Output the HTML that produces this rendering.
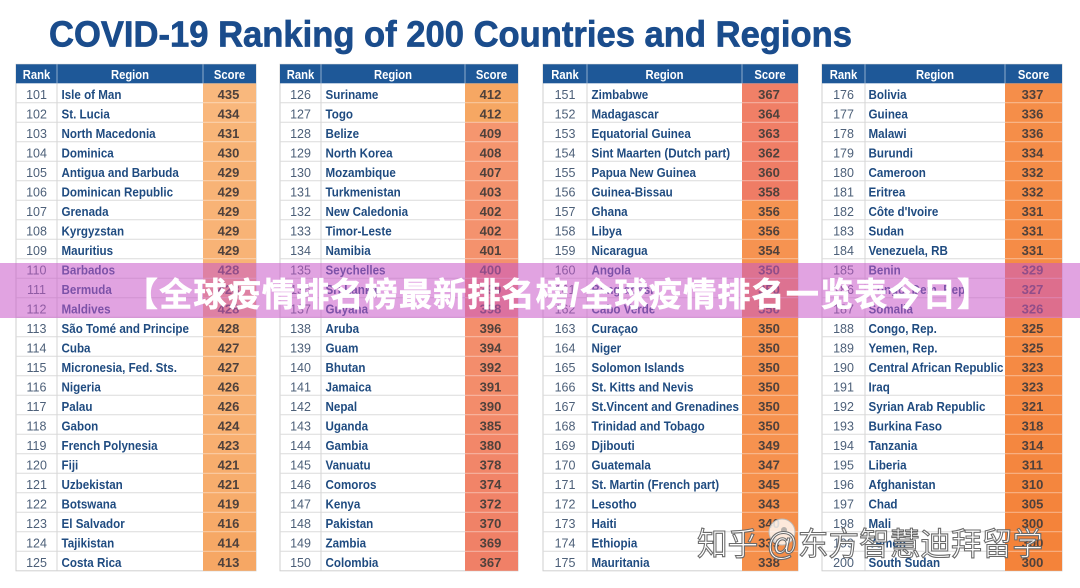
<!DOCTYPE html>
<html><head><meta charset="utf-8"><style>
html,body{margin:0;padding:0;background:#fff;}
svg{display:block}
.rk{font-family:"Liberation Sans",sans-serif;font-size:12.5px;fill:#4d6079;text-anchor:middle}
.rg{font-family:"Liberation Sans",sans-serif;font-size:13.2px;font-weight:bold;fill:#1f4b80}
.sc{font-family:"Liberation Sans",sans-serif;font-size:13px;font-weight:bold;fill:#4f413c;text-anchor:middle}
.hd{font-family:"Liberation Sans",sans-serif;font-size:12.5px;font-weight:bold;fill:#fff;text-anchor:middle}
</style></head><body>
<svg width="1080" height="588" viewBox="0 0 1080 588" xmlns="http://www.w3.org/2000/svg">
<rect width="1080" height="588" fill="#fff"/>
<text x="49" y="46.5" font-family="'Liberation Sans',sans-serif" font-size="36" font-weight="bold" fill="#1a4c8c" stroke="#1a4c8c" stroke-width="0.7" textLength="803" lengthAdjust="spacingAndGlyphs">COVID-19 Ranking of 200 Countries and Regions</text>

<!-- TABLE 1 -->
<g transform="translate(16,0)">
<rect x="0" y="64.3" width="240" height="506.5" fill="#fff" stroke="#cfcfcf"/>
<g>
<rect x="187" y="83.3" width="53" height="19.5" fill="#f9b87d"/>
<rect x="187" y="102.8" width="53" height="19.5" fill="#f9b77c"/>
<rect x="187" y="122.3" width="53" height="19.5" fill="#f8b578"/>
<rect x="187" y="141.8" width="53" height="19.5" fill="#f8b477"/>
<rect x="187" y="161.3" width="53" height="19.5" fill="#f8b376"/>
<rect x="187" y="180.8" width="53" height="19.5" fill="#f8b376"/>
<rect x="187" y="200.3" width="53" height="19.5" fill="#f8b376"/>
<rect x="187" y="219.8" width="53" height="19.5" fill="#f8b376"/>
<rect x="187" y="239.3" width="53" height="19.5" fill="#f8b376"/>
<rect x="187" y="258.8" width="53" height="19.5" fill="#f8b375"/>
<rect x="187" y="278.3" width="53" height="19.5" fill="#f8b375"/>
<rect x="187" y="297.8" width="53" height="19.5" fill="#f8b375"/>
<rect x="187" y="317.3" width="53" height="19.5" fill="#f8b375"/>
<rect x="187" y="336.8" width="53" height="19.5" fill="#f8b274"/>
<rect x="187" y="356.3" width="53" height="19.5" fill="#f8b274"/>
<rect x="187" y="375.8" width="53" height="19.5" fill="#f8b173"/>
<rect x="187" y="395.3" width="53" height="19.5" fill="#f8b173"/>
<rect x="187" y="414.8" width="53" height="19.5" fill="#f8b071"/>
<rect x="187" y="434.3" width="53" height="19.5" fill="#f8af70"/>
<rect x="187" y="453.8" width="53" height="19.5" fill="#f7ad6d"/>
<rect x="187" y="473.3" width="53" height="19.5" fill="#f7ad6d"/>
<rect x="187" y="492.8" width="53" height="19.5" fill="#f7ac6b"/>
<rect x="187" y="512.3" width="53" height="19.5" fill="#f7aa68"/>
<rect x="187" y="531.8" width="53" height="19.5" fill="#f6a865"/>
<rect x="187" y="551.3" width="53" height="19.5" fill="#f6a764"/>
</g>
<path d="M0 102.8h187m-187 19.5h187m-187 19.5h187m-187 19.5h187m-187 19.5h187m-187 19.5h187m-187 19.5h187m-187 19.5h187m-187 19.5h187m-187 19.5h187m-187 19.5h187m-187 19.5h187m-187 19.5h187m-187 19.5h187m-187 19.5h187m-187 19.5h187m-187 19.5h187m-187 19.5h187m-187 19.5h187m-187 19.5h187m-187 19.5h187m-187 19.5h187m-187 19.5h187m-187 19.5h187" stroke="#dcdcdc" fill="none"/>
<path d="M187 102.8h53m-53 19.5h53m-53 19.5h53m-53 19.5h53m-53 19.5h53m-53 19.5h53m-53 19.5h53m-53 19.5h53m-53 19.5h53m-53 19.5h53m-53 19.5h53m-53 19.5h53m-53 19.5h53m-53 19.5h53m-53 19.5h53m-53 19.5h53m-53 19.5h53m-53 19.5h53m-53 19.5h53m-53 19.5h53m-53 19.5h53m-53 19.5h53m-53 19.5h53m-53 19.5h53" stroke="#fff" stroke-opacity=".35" fill="none"/>
<path d="M41 83.3V570.8" stroke="#d6d6d6"/>
<rect x="0" y="64.3" width="240" height="19" fill="#1e5898"/>
<path d="M41 64.3v19M187 64.3v19" stroke="#fff" stroke-opacity=".5"/>
<text class="hd" transform="translate(20.5,79) scale(.9,1)">Rank</text>
<text class="hd" transform="translate(114,79) scale(.9,1)">Region</text>
<text class="hd" transform="translate(213.5,79) scale(.9,1)">Score</text>
<g>
<text class="rk" x="20.5" y="98.8">101</text><text class="rk" x="20.5" y="118.3">102</text><text class="rk" x="20.5" y="137.8">103</text><text class="rk" x="20.5" y="157.3">104</text><text class="rk" x="20.5" y="176.8">105</text><text class="rk" x="20.5" y="196.3">106</text><text class="rk" x="20.5" y="215.8">107</text><text class="rk" x="20.5" y="235.3">108</text><text class="rk" x="20.5" y="254.8">109</text><text class="rk" x="20.5" y="274.3">110</text><text class="rk" x="20.5" y="293.8">111</text><text class="rk" x="20.5" y="313.3">112</text><text class="rk" x="20.5" y="332.8">113</text><text class="rk" x="20.5" y="352.3">114</text><text class="rk" x="20.5" y="371.8">115</text><text class="rk" x="20.5" y="391.3">116</text><text class="rk" x="20.5" y="410.8">117</text><text class="rk" x="20.5" y="430.3">118</text><text class="rk" x="20.5" y="449.8">119</text><text class="rk" x="20.5" y="469.3">120</text><text class="rk" x="20.5" y="488.8">121</text><text class="rk" x="20.5" y="508.3">122</text><text class="rk" x="20.5" y="527.8">123</text><text class="rk" x="20.5" y="547.3">124</text><text class="rk" x="20.5" y="566.8">125</text>
</g>
<g transform="translate(45.5,0) scale(.88,1)">
<text class="rg" y="98.8">Isle of Man</text><text class="rg" y="118.3">St. Lucia</text><text class="rg" y="137.8">North Macedonia</text><text class="rg" y="157.3">Dominica</text><text class="rg" y="176.8">Antigua and Barbuda</text><text class="rg" y="196.3">Dominican Republic</text><text class="rg" y="215.8">Grenada</text><text class="rg" y="235.3">Kyrgyzstan</text><text class="rg" y="254.8">Mauritius</text><text class="rg" y="274.3">Barbados</text><text class="rg" y="293.8">Bermuda</text><text class="rg" y="313.3">Maldives</text><text class="rg" y="332.8">São Tomé and Principe</text><text class="rg" y="352.3">Cuba</text><text class="rg" y="371.8">Micronesia, Fed. Sts.</text><text class="rg" y="391.3">Nigeria</text><text class="rg" y="410.8">Palau</text><text class="rg" y="430.3">Gabon</text><text class="rg" y="449.8">French Polynesia</text><text class="rg" y="469.3">Fiji</text><text class="rg" y="488.8">Uzbekistan</text><text class="rg" y="508.3">Botswana</text><text class="rg" y="527.8">El Salvador</text><text class="rg" y="547.3">Tajikistan</text><text class="rg" y="566.8">Costa Rica</text>
</g>
<g>
<text class="sc" x="212.5" y="98.8">435</text><text class="sc" x="212.5" y="118.3">434</text><text class="sc" x="212.5" y="137.8">431</text><text class="sc" x="212.5" y="157.3">430</text><text class="sc" x="212.5" y="176.8">429</text><text class="sc" x="212.5" y="196.3">429</text><text class="sc" x="212.5" y="215.8">429</text><text class="sc" x="212.5" y="235.3">429</text><text class="sc" x="212.5" y="254.8">429</text><text class="sc" x="212.5" y="274.3">428</text><text class="sc" x="212.5" y="293.8">428</text><text class="sc" x="212.5" y="313.3">428</text><text class="sc" x="212.5" y="332.8">428</text><text class="sc" x="212.5" y="352.3">427</text><text class="sc" x="212.5" y="371.8">427</text><text class="sc" x="212.5" y="391.3">426</text><text class="sc" x="212.5" y="410.8">426</text><text class="sc" x="212.5" y="430.3">424</text><text class="sc" x="212.5" y="449.8">423</text><text class="sc" x="212.5" y="469.3">421</text><text class="sc" x="212.5" y="488.8">421</text><text class="sc" x="212.5" y="508.3">419</text><text class="sc" x="212.5" y="527.8">416</text><text class="sc" x="212.5" y="547.3">414</text><text class="sc" x="212.5" y="566.8">413</text>
</g>
</g>

<!-- TABLE 2 -->
<g transform="translate(280,0)">
<rect x="0" y="64.3" width="238" height="506.5" fill="#fff" stroke="#cfcfcf"/>
<g>
<rect x="185" y="83.3" width="53" height="19.5" fill="#f6a763"/>
<rect x="185" y="102.8" width="53" height="19.5" fill="#f6a763"/>
<rect x="185" y="122.3" width="53" height="19.5" fill="#f5966f"/>
<rect x="185" y="141.8" width="53" height="19.5" fill="#f5966f"/>
<rect x="185" y="161.3" width="53" height="19.5" fill="#f5956f"/>
<rect x="185" y="180.8" width="53" height="19.5" fill="#f4936e"/>
<rect x="185" y="200.3" width="53" height="19.5" fill="#f4926e"/>
<rect x="185" y="219.8" width="53" height="19.5" fill="#f4926e"/>
<rect x="185" y="239.3" width="53" height="19.5" fill="#f4926d"/>
<rect x="185" y="258.8" width="53" height="19.5" fill="#f4916d"/>
<rect x="185" y="278.3" width="53" height="19.5" fill="#f4916d"/>
<rect x="185" y="297.8" width="53" height="19.5" fill="#f4906d"/>
<rect x="185" y="317.3" width="53" height="19.5" fill="#f48f6c"/>
<rect x="185" y="336.8" width="53" height="19.5" fill="#f38e6c"/>
<rect x="185" y="356.3" width="53" height="19.5" fill="#f38d6c"/>
<rect x="185" y="375.8" width="53" height="19.5" fill="#f38d6b"/>
<rect x="185" y="395.3" width="53" height="19.5" fill="#f38c6b"/>
<rect x="185" y="414.8" width="53" height="19.5" fill="#f28a6a"/>
<rect x="185" y="434.3" width="53" height="19.5" fill="#f28769"/>
<rect x="185" y="453.8" width="53" height="19.5" fill="#f18669"/>
<rect x="185" y="473.3" width="53" height="19.5" fill="#f18468"/>
<rect x="185" y="492.8" width="53" height="19.5" fill="#f18368"/>
<rect x="185" y="512.3" width="53" height="19.5" fill="#f08267"/>
<rect x="185" y="531.8" width="53" height="19.5" fill="#f08167"/>
<rect x="185" y="551.3" width="53" height="19.5" fill="#f08067"/>
</g>
<path d="M0 102.8h185m-185 19.5h185m-185 19.5h185m-185 19.5h185m-185 19.5h185m-185 19.5h185m-185 19.5h185m-185 19.5h185m-185 19.5h185m-185 19.5h185m-185 19.5h185m-185 19.5h185m-185 19.5h185m-185 19.5h185m-185 19.5h185m-185 19.5h185m-185 19.5h185m-185 19.5h185m-185 19.5h185m-185 19.5h185m-185 19.5h185m-185 19.5h185m-185 19.5h185m-185 19.5h185" stroke="#dcdcdc" fill="none"/>
<path d="M185 102.8h53m-53 19.5h53m-53 19.5h53m-53 19.5h53m-53 19.5h53m-53 19.5h53m-53 19.5h53m-53 19.5h53m-53 19.5h53m-53 19.5h53m-53 19.5h53m-53 19.5h53m-53 19.5h53m-53 19.5h53m-53 19.5h53m-53 19.5h53m-53 19.5h53m-53 19.5h53m-53 19.5h53m-53 19.5h53m-53 19.5h53m-53 19.5h53m-53 19.5h53m-53 19.5h53" stroke="#fff" stroke-opacity=".35" fill="none"/>
<path d="M41 83.3V570.8" stroke="#d6d6d6"/>
<rect x="0" y="64.3" width="238" height="19" fill="#1e5898"/>
<path d="M41 64.3v19M185 64.3v19" stroke="#fff" stroke-opacity=".5"/>
<text class="hd" transform="translate(20.5,79) scale(.9,1)">Rank</text>
<text class="hd" transform="translate(113,79) scale(.9,1)">Region</text>
<text class="hd" transform="translate(211.5,79) scale(.9,1)">Score</text>
<g>
<text class="rk" x="20.5" y="98.8">126</text><text class="rk" x="20.5" y="118.3">127</text><text class="rk" x="20.5" y="137.8">128</text><text class="rk" x="20.5" y="157.3">129</text><text class="rk" x="20.5" y="176.8">130</text><text class="rk" x="20.5" y="196.3">131</text><text class="rk" x="20.5" y="215.8">132</text><text class="rk" x="20.5" y="235.3">133</text><text class="rk" x="20.5" y="254.8">134</text><text class="rk" x="20.5" y="274.3">135</text><text class="rk" x="20.5" y="293.8">136</text><text class="rk" x="20.5" y="313.3">137</text><text class="rk" x="20.5" y="332.8">138</text><text class="rk" x="20.5" y="352.3">139</text><text class="rk" x="20.5" y="371.8">140</text><text class="rk" x="20.5" y="391.3">141</text><text class="rk" x="20.5" y="410.8">142</text><text class="rk" x="20.5" y="430.3">143</text><text class="rk" x="20.5" y="449.8">144</text><text class="rk" x="20.5" y="469.3">145</text><text class="rk" x="20.5" y="488.8">146</text><text class="rk" x="20.5" y="508.3">147</text><text class="rk" x="20.5" y="527.8">148</text><text class="rk" x="20.5" y="547.3">149</text><text class="rk" x="20.5" y="566.8">150</text>
</g>
<g transform="translate(45.5,0) scale(.88,1)">
<text class="rg" y="98.8">Suriname</text><text class="rg" y="118.3">Togo</text><text class="rg" y="137.8">Belize</text><text class="rg" y="157.3">North Korea</text><text class="rg" y="176.8">Mozambique</text><text class="rg" y="196.3">Turkmenistan</text><text class="rg" y="215.8">New Caledonia</text><text class="rg" y="235.3">Timor-Leste</text><text class="rg" y="254.8">Namibia</text><text class="rg" y="274.3">Seychelles</text><text class="rg" y="293.8">Sri Lanka</text><text class="rg" y="313.3">Guyana</text><text class="rg" y="332.8">Aruba</text><text class="rg" y="352.3">Guam</text><text class="rg" y="371.8">Bhutan</text><text class="rg" y="391.3">Jamaica</text><text class="rg" y="410.8">Nepal</text><text class="rg" y="430.3">Uganda</text><text class="rg" y="449.8">Gambia</text><text class="rg" y="469.3">Vanuatu</text><text class="rg" y="488.8">Comoros</text><text class="rg" y="508.3">Kenya</text><text class="rg" y="527.8">Pakistan</text><text class="rg" y="547.3">Zambia</text><text class="rg" y="566.8">Colombia</text>
</g>
<g>
<text class="sc" x="210.5" y="98.8">412</text><text class="sc" x="210.5" y="118.3">412</text><text class="sc" x="210.5" y="137.8">409</text><text class="sc" x="210.5" y="157.3">408</text><text class="sc" x="210.5" y="176.8">407</text><text class="sc" x="210.5" y="196.3">403</text><text class="sc" x="210.5" y="215.8">402</text><text class="sc" x="210.5" y="235.3">402</text><text class="sc" x="210.5" y="254.8">401</text><text class="sc" x="210.5" y="274.3">400</text><text class="sc" x="210.5" y="293.8">399</text><text class="sc" x="210.5" y="313.3">398</text><text class="sc" x="210.5" y="332.8">396</text><text class="sc" x="210.5" y="352.3">394</text><text class="sc" x="210.5" y="371.8">392</text><text class="sc" x="210.5" y="391.3">391</text><text class="sc" x="210.5" y="410.8">390</text><text class="sc" x="210.5" y="430.3">385</text><text class="sc" x="210.5" y="449.8">380</text><text class="sc" x="210.5" y="469.3">378</text><text class="sc" x="210.5" y="488.8">374</text><text class="sc" x="210.5" y="508.3">372</text><text class="sc" x="210.5" y="527.8">370</text><text class="sc" x="210.5" y="547.3">369</text><text class="sc" x="210.5" y="566.8">367</text>
</g>
</g>

<!-- TABLE 3 -->
<g transform="translate(543,0)">
<rect x="0" y="64.3" width="255" height="506.5" fill="#fff" stroke="#cfcfcf"/>
<g>
<rect x="199" y="83.3" width="56" height="19.5" fill="#f08067"/>
<rect x="199" y="102.8" width="56" height="19.5" fill="#f07f66"/>
<rect x="199" y="122.3" width="56" height="19.5" fill="#f07e66"/>
<rect x="199" y="141.8" width="56" height="19.5" fill="#f07e66"/>
<rect x="199" y="161.3" width="56" height="19.5" fill="#ef7d66"/>
<rect x="199" y="180.8" width="56" height="19.5" fill="#ef7c65"/>
<rect x="199" y="200.3" width="56" height="19.5" fill="#f69452"/>
<rect x="199" y="219.8" width="56" height="19.5" fill="#f69452"/>
<rect x="199" y="239.3" width="56" height="19.5" fill="#f69351"/>
<rect x="199" y="258.8" width="56" height="19.5" fill="#f6924f"/>
<rect x="199" y="278.3" width="56" height="19.5" fill="#f6924f"/>
<rect x="199" y="297.8" width="56" height="19.5" fill="#f6924f"/>
<rect x="199" y="317.3" width="56" height="19.5" fill="#f6924f"/>
<rect x="199" y="336.8" width="56" height="19.5" fill="#f6924f"/>
<rect x="199" y="356.3" width="56" height="19.5" fill="#f6924f"/>
<rect x="199" y="375.8" width="56" height="19.5" fill="#f6924f"/>
<rect x="199" y="395.3" width="56" height="19.5" fill="#f6924f"/>
<rect x="199" y="414.8" width="56" height="19.5" fill="#f6924f"/>
<rect x="199" y="434.3" width="56" height="19.5" fill="#f6924f"/>
<rect x="199" y="453.8" width="56" height="19.5" fill="#f6914e"/>
<rect x="199" y="473.3" width="56" height="19.5" fill="#f6914d"/>
<rect x="199" y="492.8" width="56" height="19.5" fill="#f6904c"/>
<rect x="199" y="512.3" width="56" height="19.5" fill="#f58f4b"/>
<rect x="199" y="531.8" width="56" height="19.5" fill="#f58f4b"/>
<rect x="199" y="551.3" width="56" height="19.5" fill="#f58f4a"/>
</g>
<path d="M0 102.8h199m-199 19.5h199m-199 19.5h199m-199 19.5h199m-199 19.5h199m-199 19.5h199m-199 19.5h199m-199 19.5h199m-199 19.5h199m-199 19.5h199m-199 19.5h199m-199 19.5h199m-199 19.5h199m-199 19.5h199m-199 19.5h199m-199 19.5h199m-199 19.5h199m-199 19.5h199m-199 19.5h199m-199 19.5h199m-199 19.5h199m-199 19.5h199m-199 19.5h199m-199 19.5h199" stroke="#dcdcdc" fill="none"/>
<path d="M199 102.8h56m-56 19.5h56m-56 19.5h56m-56 19.5h56m-56 19.5h56m-56 19.5h56m-56 19.5h56m-56 19.5h56m-56 19.5h56m-56 19.5h56m-56 19.5h56m-56 19.5h56m-56 19.5h56m-56 19.5h56m-56 19.5h56m-56 19.5h56m-56 19.5h56m-56 19.5h56m-56 19.5h56m-56 19.5h56m-56 19.5h56m-56 19.5h56m-56 19.5h56m-56 19.5h56" stroke="#fff" stroke-opacity=".35" fill="none"/>
<path d="M44 83.3V570.8" stroke="#d6d6d6"/>
<rect x="0" y="64.3" width="255" height="19" fill="#1e5898"/>
<path d="M44 64.3v19M199 64.3v19" stroke="#fff" stroke-opacity=".5"/>
<text class="hd" transform="translate(22,79) scale(.9,1)">Rank</text>
<text class="hd" transform="translate(121.5,79) scale(.9,1)">Region</text>
<text class="hd" transform="translate(227,79) scale(.9,1)">Score</text>
<g>
<text class="rk" x="22" y="98.8">151</text><text class="rk" x="22" y="118.3">152</text><text class="rk" x="22" y="137.8">153</text><text class="rk" x="22" y="157.3">154</text><text class="rk" x="22" y="176.8">155</text><text class="rk" x="22" y="196.3">156</text><text class="rk" x="22" y="215.8">157</text><text class="rk" x="22" y="235.3">158</text><text class="rk" x="22" y="254.8">159</text><text class="rk" x="22" y="274.3">160</text><text class="rk" x="22" y="293.8">161</text><text class="rk" x="22" y="313.3">162</text><text class="rk" x="22" y="332.8">163</text><text class="rk" x="22" y="352.3">164</text><text class="rk" x="22" y="371.8">165</text><text class="rk" x="22" y="391.3">166</text><text class="rk" x="22" y="410.8">167</text><text class="rk" x="22" y="430.3">168</text><text class="rk" x="22" y="449.8">169</text><text class="rk" x="22" y="469.3">170</text><text class="rk" x="22" y="488.8">171</text><text class="rk" x="22" y="508.3">172</text><text class="rk" x="22" y="527.8">173</text><text class="rk" x="22" y="547.3">174</text><text class="rk" x="22" y="566.8">175</text>
</g>
<g transform="translate(48.5,0) scale(.88,1)">
<text class="rg" y="98.8">Zimbabwe</text><text class="rg" y="118.3">Madagascar</text><text class="rg" y="137.8">Equatorial Guinea</text><text class="rg" y="157.3">Sint Maarten (Dutch part)</text><text class="rg" y="176.8">Papua New Guinea</text><text class="rg" y="196.3">Guinea-Bissau</text><text class="rg" y="215.8">Ghana</text><text class="rg" y="235.3">Libya</text><text class="rg" y="254.8">Nicaragua</text><text class="rg" y="274.3">Angola</text><text class="rg" y="293.8">Bangladesh</text><text class="rg" y="313.3">Cabo Verde</text><text class="rg" y="332.8">Curaçao</text><text class="rg" y="352.3">Niger</text><text class="rg" y="371.8">Solomon Islands</text><text class="rg" y="391.3">St. Kitts and Nevis</text><text class="rg" y="410.8">St.Vincent and Grenadines</text><text class="rg" y="430.3">Trinidad and Tobago</text><text class="rg" y="449.8">Djibouti</text><text class="rg" y="469.3">Guatemala</text><text class="rg" y="488.8">St. Martin (French part)</text><text class="rg" y="508.3">Lesotho</text><text class="rg" y="527.8">Haiti</text><text class="rg" y="547.3">Ethiopia</text><text class="rg" y="566.8">Mauritania</text>
</g>
<g>
<text class="sc" x="226" y="98.8">367</text><text class="sc" x="226" y="118.3">364</text><text class="sc" x="226" y="137.8">363</text><text class="sc" x="226" y="157.3">362</text><text class="sc" x="226" y="176.8">360</text><text class="sc" x="226" y="196.3">358</text><text class="sc" x="226" y="215.8">356</text><text class="sc" x="226" y="235.3">356</text><text class="sc" x="226" y="254.8">354</text><text class="sc" x="226" y="274.3">350</text><text class="sc" x="226" y="293.8">350</text><text class="sc" x="226" y="313.3">350</text><text class="sc" x="226" y="332.8">350</text><text class="sc" x="226" y="352.3">350</text><text class="sc" x="226" y="371.8">350</text><text class="sc" x="226" y="391.3">350</text><text class="sc" x="226" y="410.8">350</text><text class="sc" x="226" y="430.3">350</text><text class="sc" x="226" y="449.8">349</text><text class="sc" x="226" y="469.3">347</text><text class="sc" x="226" y="488.8">345</text><text class="sc" x="226" y="508.3">343</text><text class="sc" x="226" y="527.8">340</text><text class="sc" x="226" y="547.3">339</text><text class="sc" x="226" y="566.8">338</text>
</g>
</g>

<!-- TABLE 4 -->
<g transform="translate(822,0)">
<rect x="0" y="64.3" width="240" height="506.5" fill="#fff" stroke="#cfcfcf"/>
<g>
<rect x="183" y="83.3" width="57" height="19.5" fill="#f58e4a"/>
<rect x="183" y="102.8" width="57" height="19.5" fill="#f58e49"/>
<rect x="183" y="122.3" width="57" height="19.5" fill="#f58e49"/>
<rect x="183" y="141.8" width="57" height="19.5" fill="#f58d49"/>
<rect x="183" y="161.3" width="57" height="19.5" fill="#f58d48"/>
<rect x="183" y="180.8" width="57" height="19.5" fill="#f58d48"/>
<rect x="183" y="200.3" width="57" height="19.5" fill="#f58c47"/>
<rect x="183" y="219.8" width="57" height="19.5" fill="#f58c47"/>
<rect x="183" y="239.3" width="57" height="19.5" fill="#f58c47"/>
<rect x="183" y="258.8" width="57" height="19.5" fill="#f58c46"/>
<rect x="183" y="278.3" width="57" height="19.5" fill="#f58b46"/>
<rect x="183" y="297.8" width="57" height="19.5" fill="#f58b45"/>
<rect x="183" y="317.3" width="57" height="19.5" fill="#f58b45"/>
<rect x="183" y="336.8" width="57" height="19.5" fill="#f58b45"/>
<rect x="183" y="356.3" width="57" height="19.5" fill="#f58a44"/>
<rect x="183" y="375.8" width="57" height="19.5" fill="#f58a44"/>
<rect x="183" y="395.3" width="57" height="19.5" fill="#f58943"/>
<rect x="183" y="414.8" width="57" height="19.5" fill="#f58842"/>
<rect x="183" y="434.3" width="57" height="19.5" fill="#f48740"/>
<rect x="183" y="453.8" width="57" height="19.5" fill="#f4863f"/>
<rect x="183" y="473.3" width="57" height="19.5" fill="#f4863e"/>
<rect x="183" y="492.8" width="57" height="19.5" fill="#f4843c"/>
<rect x="183" y="512.3" width="57" height="19.5" fill="#f4833a"/>
<rect x="183" y="531.8" width="57" height="19.5" fill="#f4833a"/>
<rect x="183" y="551.3" width="57" height="19.5" fill="#f4833a"/>
</g>
<path d="M0 102.8h183m-183 19.5h183m-183 19.5h183m-183 19.5h183m-183 19.5h183m-183 19.5h183m-183 19.5h183m-183 19.5h183m-183 19.5h183m-183 19.5h183m-183 19.5h183m-183 19.5h183m-183 19.5h183m-183 19.5h183m-183 19.5h183m-183 19.5h183m-183 19.5h183m-183 19.5h183m-183 19.5h183m-183 19.5h183m-183 19.5h183m-183 19.5h183m-183 19.5h183m-183 19.5h183" stroke="#dcdcdc" fill="none"/>
<path d="M183 102.8h57m-57 19.5h57m-57 19.5h57m-57 19.5h57m-57 19.5h57m-57 19.5h57m-57 19.5h57m-57 19.5h57m-57 19.5h57m-57 19.5h57m-57 19.5h57m-57 19.5h57m-57 19.5h57m-57 19.5h57m-57 19.5h57m-57 19.5h57m-57 19.5h57m-57 19.5h57m-57 19.5h57m-57 19.5h57m-57 19.5h57m-57 19.5h57m-57 19.5h57m-57 19.5h57" stroke="#fff" stroke-opacity=".35" fill="none"/>
<path d="M43 83.3V570.8" stroke="#d6d6d6"/>
<rect x="0" y="64.3" width="240" height="19" fill="#1e5898"/>
<path d="M43 64.3v19M183 64.3v19" stroke="#fff" stroke-opacity=".5"/>
<text class="hd" transform="translate(21.5,79) scale(.9,1)">Rank</text>
<text class="hd" transform="translate(113,79) scale(.9,1)">Region</text>
<text class="hd" transform="translate(211.5,79) scale(.9,1)">Score</text>
<g>
<text class="rk" x="21.5" y="98.8">176</text><text class="rk" x="21.5" y="118.3">177</text><text class="rk" x="21.5" y="137.8">178</text><text class="rk" x="21.5" y="157.3">179</text><text class="rk" x="21.5" y="176.8">180</text><text class="rk" x="21.5" y="196.3">181</text><text class="rk" x="21.5" y="215.8">182</text><text class="rk" x="21.5" y="235.3">183</text><text class="rk" x="21.5" y="254.8">184</text><text class="rk" x="21.5" y="274.3">185</text><text class="rk" x="21.5" y="293.8">186</text><text class="rk" x="21.5" y="313.3">187</text><text class="rk" x="21.5" y="332.8">188</text><text class="rk" x="21.5" y="352.3">189</text><text class="rk" x="21.5" y="371.8">190</text><text class="rk" x="21.5" y="391.3">191</text><text class="rk" x="21.5" y="410.8">192</text><text class="rk" x="21.5" y="430.3">193</text><text class="rk" x="21.5" y="449.8">194</text><text class="rk" x="21.5" y="469.3">195</text><text class="rk" x="21.5" y="488.8">196</text><text class="rk" x="21.5" y="508.3">197</text><text class="rk" x="21.5" y="527.8">198</text><text class="rk" x="21.5" y="547.3">199</text><text class="rk" x="21.5" y="566.8">200</text>
</g>
<g transform="translate(46.5,0) scale(.88,1)">
<text class="rg" y="98.8">Bolivia</text><text class="rg" y="118.3">Guinea</text><text class="rg" y="137.8">Malawi</text><text class="rg" y="157.3">Burundi</text><text class="rg" y="176.8">Cameroon</text><text class="rg" y="196.3">Eritrea</text><text class="rg" y="215.8">Côte d'Ivoire</text><text class="rg" y="235.3">Sudan</text><text class="rg" y="254.8">Venezuela, RB</text><text class="rg" y="274.3">Benin</text><text class="rg" y="293.8">Congo, Dem. Rep.</text><text class="rg" y="313.3">Somalia</text><text class="rg" y="332.8">Congo, Rep.</text><text class="rg" y="352.3">Yemen, Rep.</text><text class="rg" y="371.8">Central African Republic</text><text class="rg" y="391.3">Iraq</text><text class="rg" y="410.8">Syrian Arab Republic</text><text class="rg" y="430.3">Burkina Faso</text><text class="rg" y="449.8">Tanzania</text><text class="rg" y="469.3">Liberia</text><text class="rg" y="488.8">Afghanistan</text><text class="rg" y="508.3">Chad</text><text class="rg" y="527.8">Mali</text><text class="rg" y="547.3">Yemen</text><text class="rg" y="566.8">South Sudan</text>
</g>
<g>
<text class="sc" x="210.5" y="98.8">337</text><text class="sc" x="210.5" y="118.3">336</text><text class="sc" x="210.5" y="137.8">336</text><text class="sc" x="210.5" y="157.3">334</text><text class="sc" x="210.5" y="176.8">332</text><text class="sc" x="210.5" y="196.3">332</text><text class="sc" x="210.5" y="215.8">331</text><text class="sc" x="210.5" y="235.3">331</text><text class="sc" x="210.5" y="254.8">331</text><text class="sc" x="210.5" y="274.3">329</text><text class="sc" x="210.5" y="293.8">327</text><text class="sc" x="210.5" y="313.3">326</text><text class="sc" x="210.5" y="332.8">325</text><text class="sc" x="210.5" y="352.3">325</text><text class="sc" x="210.5" y="371.8">323</text><text class="sc" x="210.5" y="391.3">323</text><text class="sc" x="210.5" y="410.8">321</text><text class="sc" x="210.5" y="430.3">318</text><text class="sc" x="210.5" y="449.8">314</text><text class="sc" x="210.5" y="469.3">311</text><text class="sc" x="210.5" y="488.8">310</text><text class="sc" x="210.5" y="508.3">305</text><text class="sc" x="210.5" y="527.8">300</text><text class="sc" x="210.5" y="547.3">300</text><text class="sc" x="210.5" y="566.8">300</text>
</g>
</g>

<!-- Banner overlay -->
<rect x="0" y="263" width="1080" height="55" fill="#c857c8" fill-opacity="0.55"/>
<text x="125" y="306" font-family="'Liberation Sans','Noto Sans CJK SC',sans-serif" font-size="33" font-weight="bold" fill="#fff" stroke="#fff" stroke-width="0.6" textLength="865" lengthAdjust="spacing">【全球疫情排名榜最新排名榜/全球疫情排名一览表今日】</text>

<!-- Watermark -->
<circle cx="782" cy="532" r="13" fill="#fff" fill-opacity="0.8" stroke="#bbb" stroke-width="1"/>
<circle cx="784" cy="530" r="3" fill="#999" fill-opacity="0.7"/>
<text x="697" y="555" font-family="'Liberation Sans','Noto Sans CJK SC',sans-serif" font-size="32" fill="#fff" fill-opacity="0.95" stroke="#6a6a6a" stroke-width="1.1" textLength="346" lengthAdjust="spacingAndGlyphs">知乎 @东方智慧迪拜留学</text>
</svg>
</body></html>
